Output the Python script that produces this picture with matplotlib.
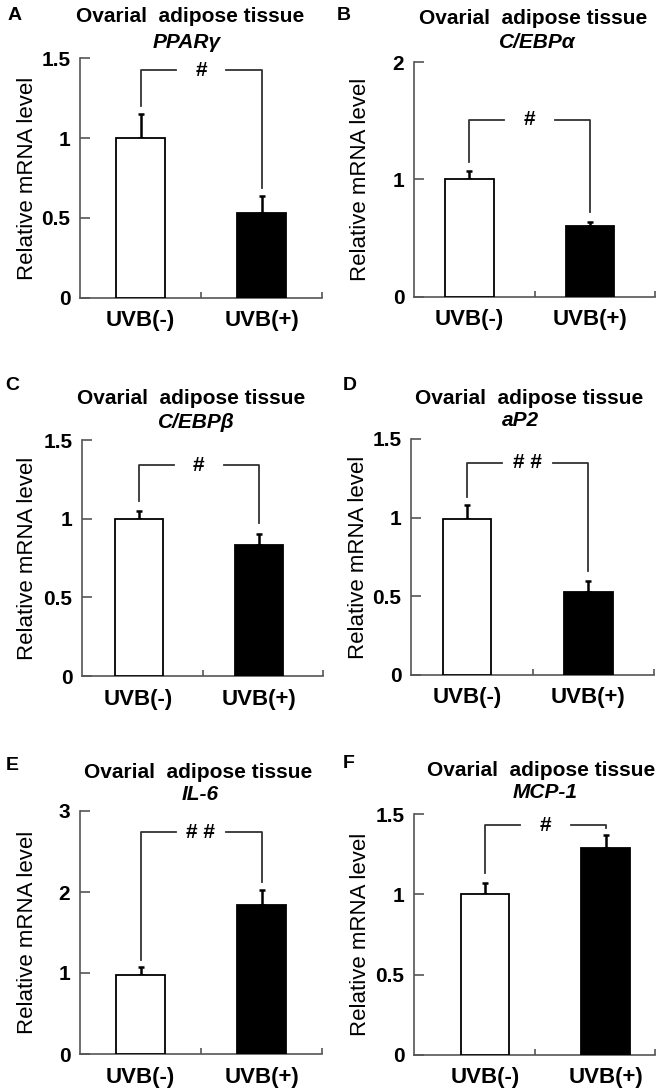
import numpy as np
import matplotlib
matplotlib.use("Agg")
import matplotlib.pyplot as plt

plt.rcParams['font.family'] = ['Liberation Sans', 'DejaVu Sans']

W, H = 664, 1092

letters = ["A", "B", "C", "D", "E", "F"]
genes = ["PPARγ", "C/EBPα", "C/EBPβ", "aP2", "IL-6", "MCP-1"]
groups = ["UVB(-)", "UVB(+)"]
means = [[1.00, 0.53], [1.00, 0.60], [1.00, 0.83], [0.99, 0.53], [0.97, 1.84], [1.00, 1.29]]
errs = [[0.15, 0.11], [0.07, 0.04], [0.05, 0.07], [0.09, 0.07], [0.10, 0.18], [0.07, 0.08]]
ymax = [1.5, 2, 1.5, 1.5, 3, 1.5]
yticks = [[0, 0.5, 1, 1.5], [0, 1, 2], [0, 0.5, 1, 1.5], [0, 0.5, 1, 1.5], [0, 1, 2, 3], [0, 0.5, 1, 1.5]]
ytick_labels = [["0", "0.5", "1", "1.5"], ["0", "1", "2"], ["0", "0.5", "1", "1.5"],
                ["0", "0.5", "1", "1.5"], ["0", "1", "2", "3"], ["0", "0.5", "1", "1.5"]]
marks = ["#", "#", "#", "# #", "# #", "#"]
bracket_y = [1.425, 1.51, 1.34, 1.35, 2.74, 1.43]
leg_ends = [[1.20, 0.69], [1.15, 0.72], [1.11, 0.97], [1.13, 0.66], [1.16, 2.12], [1.13, 1.41]]

# layout in pixels: axes box (left, top, right, bottom)
boxes = [(80, 58, 322, 298), (414, 62, 655, 297), (82, 440, 323, 676),
         (411, 439, 654, 675), (80, 811, 322, 1054), (414, 814, 655, 1055)]
shifts = [0, -0.04, -0.03, -0.04, 0, 0.09]
letter_pos = [(15, 15), (344, 15), (12, 385), (350, 385), (12, 765), (349, 763)]
title_pos = [(190, 17), (533, 18), (191, 398), (529, 398), (198, 772), (541, 770)]
gene_pos = [(187, 43), (537, 43), (196, 422), (520, 421), (200, 795), (545, 793)]
ylabel_x = [28, 361, 28, 358, 28, 361]

fig = plt.figure(figsize=(W / 100, H / 100), dpi=100)
fig.patch.set_facecolor("white")

spine_col = "#555555"
for i in range(6):
    l, t, r, b = boxes[i]
    ax = fig.add_axes([l / W, 1 - b / H, (r - l) / W, (b - t) / H])
    x = np.arange(2) + shifts[i]
    ax.bar(x, means[i], width=0.4, color=["white", "black"], edgecolor="black", linewidth=1.3, zorder=3)
    ax.errorbar(x, means[i], yerr=[[0, 0], errs[i]], fmt="none", ecolor="black",
                elinewidth=1.8, capsize=2.5, capthick=1.8, zorder=2)

    # significance bracket
    by = bracket_y[i]
    mid = (x[0] + x[1]) / 2
    gap = 0.21
    ax.plot([x[0], x[0], mid - gap], [leg_ends[i][0], by, by], color="#333333", lw=1.3, zorder=4)
    ax.plot([mid + gap, x[1], x[1]], [by, by, leg_ends[i][1]], color="#333333", lw=1.3, zorder=4)
    ax.text(mid, by, marks[i], ha="center", va="center", fontsize=15, fontweight="bold")

    ax.set_xlim(-0.5, 1.5)
    ax.set_ylim(0, ymax[i])
    for s in ["top", "right"]:
        ax.spines[s].set_visible(False)
    for s in ["left", "bottom"]:
        ax.spines[s].set_color(spine_col)
        ax.spines[s].set_linewidth(1.2)
    ax.set_yticks(yticks[i])
    ax.set_yticklabels(ytick_labels[i], fontsize=15, fontweight="bold")
    ax.tick_params(axis="y", direction="in", length=7, width=1.2, color=spine_col, pad=7)
    ax.set_xticks(x)
    ax.set_xticklabels(groups, fontsize=16, fontweight="bold")
    ax.tick_params(axis="x", which="major", length=0, pad=9)
    ax.set_xticks([0.5, 1.5], minor=True)
    ax.tick_params(axis="x", which="minor", direction="in", length=4, width=1.2, color=spine_col)

    fig.text(letter_pos[i][0] / W, 1 - letter_pos[i][1] / H, letters[i], fontsize=14,
             fontweight="bold", ha="center", va="center")
    fig.text(title_pos[i][0] / W, 1 - title_pos[i][1] / H, "Ovarial  adipose tissue",
             fontsize=15, fontweight="bold", ha="center", va="center")
    fig.text(gene_pos[i][0] / W, 1 - gene_pos[i][1] / H, genes[i], fontsize=15,
             fontweight="bold", style="italic", ha="center", va="center")
    fig.text(ylabel_x[i] / W, 1 - (t + b) / 2 / H, "Relative mRNA level", fontsize=16,
             rotation=90, ha="center", va="center")

fig.savefig("out.png", dpi=100, facecolor="white")
